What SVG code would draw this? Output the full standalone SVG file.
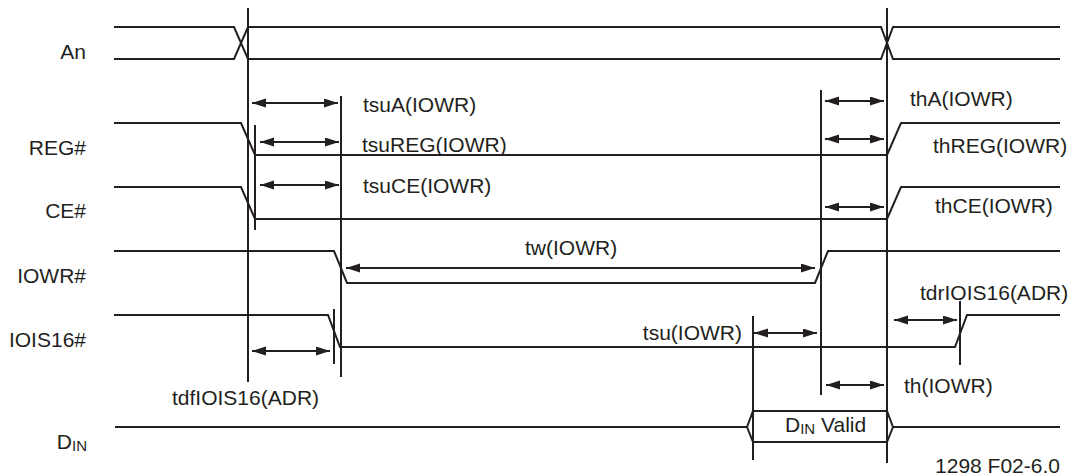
<svg xmlns="http://www.w3.org/2000/svg" width="1073" height="476" viewBox="0 0 1073 476">
<style>
.sig{fill:none;stroke:#231f20;stroke-width:2}
.v{stroke:#231f20;stroke-width:2}
.ar{stroke:#231f20;stroke-width:2;marker-start:url(#ah);marker-end:url(#ah)}
text{font-family:"Liberation Sans",Arial,sans-serif;font-size:21px;fill:#231f20}
.lbl{text-anchor:end}
</style>
<defs>
<marker id="ah" markerUnits="userSpaceOnUse" markerWidth="15" markerHeight="10" refX="14" refY="4.5" orient="auto-start-reverse">
<path d="M0,0 L14,4.5 L0,9 z" fill="#231f20"/>
</marker>
</defs>
<rect width="1073" height="476" fill="#fff"/>
<g id="labels">
<text class="lbl" x="86" y="59">An</text>
<text class="lbl" x="86" y="155">REG#</text>
<text class="lbl" x="86" y="218">CE#</text>
<text class="lbl" x="86" y="283">IOWR#</text>
<text class="lbl" x="86" y="347">IOIS16#</text>
<text class="lbl" x="87" y="449">D<tspan font-size="15" dy="2">IN</tspan></text>
</g>
<g id="signal-An">
<path class="sig" d="M114,27 H234 L248,59 H881 L893,27 H1060"/>
<path class="sig" d="M114,59 H234 L248,27 H881 L893,59 H1060"/>
</g>
<g id="signal-REG">
<path class="sig" d="M114,123 H241 L255,155 H887 L901,123 H1060"/>
</g>
<g id="signal-CE">
<path class="sig" d="M114,187 H241 L255,219 H887 L901,187 H1060"/>
</g>
<g id="signal-IOWR">
<path class="sig" d="M114,251 H334 L347,283 H815 L828,251 H1060"/>
</g>
<g id="signal-IOIS16">
<path class="sig" d="M114,315 H328 L340,347 H955 L967,315 H1060"/>
</g>
<g id="signal-DIN">
<path class="sig" d="M115,427 H747 L753,411 H887 L893,427 H1060"/>
<path class="sig" d="M747,427 L753,442 H887 L893,427"/>
<text x="785" y="432">D<tspan font-size="15" dy="2">IN</tspan><tspan dy="-2"> Valid</tspan></text>
</g>
<g id="connectors">
<line class="v" x1="248" y1="8" x2="248" y2="382"/>
<line class="v" x1="255" y1="125" x2="255" y2="230"/>
<line class="v" x1="341" y1="96" x2="341" y2="377"/>
<line class="v" x1="334" y1="309" x2="334" y2="364"/>
<line class="v" x1="821" y1="90" x2="821" y2="395"/>
<line class="v" x1="887" y1="8" x2="887" y2="463"/>
<line class="v" x1="753" y1="316" x2="753" y2="460"/>
<line class="v" x1="960" y1="301" x2="960" y2="365"/>
<line class="ar" x1="252" y1="103" x2="338" y2="103"/>
<line class="ar" x1="260" y1="142" x2="339" y2="142"/>
<line class="ar" x1="260" y1="185" x2="339" y2="185"/>
<line class="ar" x1="825" y1="101" x2="884" y2="101"/>
<line class="ar" x1="825" y1="139" x2="884" y2="139"/>
<line class="ar" x1="825" y1="207" x2="884" y2="207"/>
<line class="ar" x1="346" y1="268" x2="815" y2="268"/>
<line class="ar" x1="252" y1="351" x2="330" y2="351"/>
<line class="ar" x1="754" y1="333" x2="817" y2="333"/>
<line class="ar" x1="894" y1="320" x2="957" y2="320"/>
<line class="ar" x1="826" y1="385" x2="884" y2="385"/>
</g>
<g id="timing-labels">
<text x="363" y="112">tsuA(IOWR)</text>
<text x="362" y="152">tsuREG(IOWR)</text>
<text x="363" y="193">tsuCE(IOWR)</text>
<text x="910" y="106">thA(IOWR)</text>
<text x="933" y="153">thREG(IOWR)</text>
<text x="935" y="213">thCE(IOWR)</text>
<text x="525" y="255">tw(IOWR)</text>
<text x="742" y="340" text-anchor="end">tsu(IOWR)</text>
<text x="920" y="300">tdrIOIS16(ADR)</text>
<text x="172" y="405">tdfIOIS16(ADR)</text>
<text x="904" y="393">th(IOWR)</text>
<text x="1060" y="473" text-anchor="end" font-size="16">1298 F02-6.0</text>
</g>
</svg>
